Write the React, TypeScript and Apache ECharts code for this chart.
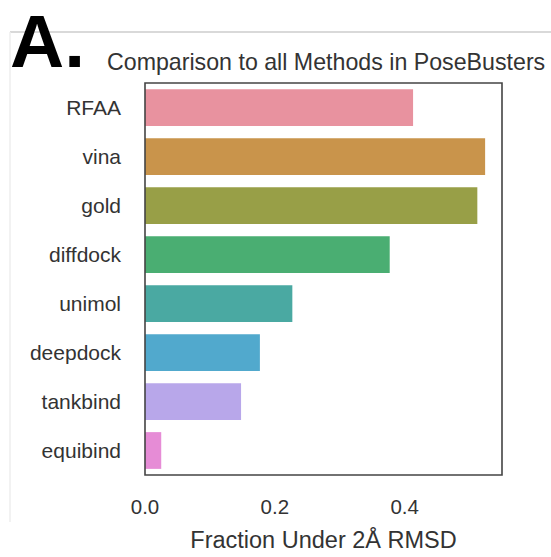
import React, { useEffect, useRef } from "react";
import * as echarts from "echarts";

const methods = ["RFAA", "vina", "gold", "diffdock", "unimol", "deepdock", "tankbind", "equibind"];
const fractions = [0.413, 0.524, 0.512, 0.377, 0.227, 0.177, 0.148, 0.025];
const barColors = ["#e8929f", "#c9944b", "#989f47", "#4aae72", "#4aa9a2", "#51a9cd", "#b8a7ea", "#e68cd6"];
const xTicks = [0, 0.2, 0.4];

const FONT = "'Liberation Sans', Arial, Helvetica, sans-serif";

export default function App() {
  const ref = useRef<HTMLDivElement>(null);
  useEffect(() => {
    if (!ref.current) return;
    const chart = echarts.init(ref.current, null, { renderer: "svg" });
    chart.setOption({
      animation: false,
      backgroundColor: "#ffffff",
      textStyle: { fontFamily: FONT },
      title: [
        {
          text: "Comparison to all Methods in PoseBusters",
          left: 102,
          top: 45,
          textStyle: { fontSize: 23.2, fontWeight: "normal", color: "#333333", fontFamily: FONT },
        },
      ],
      graphic: [
        { type: "line", z: 0, shape: { x1: 10, y1: 32, x2: 551, y2: 32 }, style: { stroke: "#cccccc", lineWidth: 1.5 } },
        { type: "line", z: 0, shape: { x1: 10, y1: 32, x2: 10, y2: 522 }, style: { stroke: "#eeeeee", lineWidth: 1.5 } },
        {
          type: "text",
          z: 10,
          x: 10,
          y: 41,
          style: {
            text: "A.",
            fontSize: 75,
            fontWeight: "bold",
            fontFamily: FONT,
            fill: "#000000",
            align: "left",
            verticalAlign: "middle",
          },
        },
      ],
      grid: {
        left: 145,
        top: 83,
        width: 357,
        height: 398,
        show: true,
        borderColor: "#444444",
        borderWidth: 1.6,
        backgroundColor: "transparent",
        z: 3,
      },
      xAxis: {
        type: "value",
        min: 0,
        max: 0.55,
        interval: 0.2,
        splitLine: { show: false },
        axisLine: { show: false },
        axisTick: { show: false },
        axisLabel: {
          showMaxLabel: false,
          margin: 21,
          fontSize: 20.5,
          color: "#333333",
          fontFamily: FONT,
          formatter: (v: number) => (xTicks.some((t) => Math.abs(t - v) < 1e-9) ? v.toFixed(1) : ""),
        },
        name: "Fraction Under 2Å RMSD",
        nameLocation: "middle",
        nameGap: 53,
        nameTextStyle: { fontSize: 23.5, color: "#333333", fontFamily: FONT },
      },
      yAxis: {
        type: "category",
        data: methods,
        inverse: true,
        axisLine: { show: false },
        axisTick: { show: false },
        splitLine: { show: false },
        axisLabel: { margin: 24, fontSize: 21, color: "#333333", fontFamily: FONT },
      },
      series: [
        {
          type: "bar",
          data: fractions.map((v, i) => ({ value: v, itemStyle: { color: barColors[i] } })),
          barCategoryGap: "25%",
        },
      ],
    });
    return () => chart.dispose();
  }, []);
  return <div ref={ref} style={{ position: "fixed", left: 0, top: 0, width: 551, height: 557 }} />;
}
